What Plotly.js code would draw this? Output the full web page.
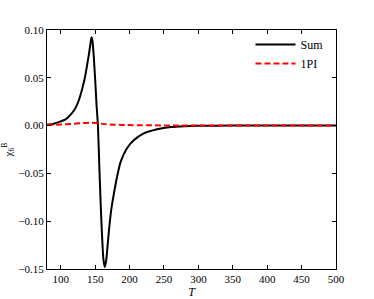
<!DOCTYPE html>
<html><head><meta charset="utf-8">
<script src="https://cdn.plot.ly/plotly-3.0.1.min.js"></script>
<style>html,body{margin:0;padding:0;background:#fff}#chart{width:374px;height:299px}</style>
</head><body><div id="chart"></div>
<script>
const sumT = [80, 90, 100, 107, 115, 121, 126, 131, 135, 138, 141, 143, 144.6, 146, 148, 150, 152, 154, 156, 158, 160, 162, 164, 166, 168, 170, 173, 177, 182, 187, 196, 206, 220, 240, 260, 280, 300, 350, 400, 450, 500];
const sumV = [0.0008, 0.002, 0.0045, 0.0065, 0.012, 0.018, 0.026, 0.038, 0.050, 0.062, 0.075, 0.085, 0.0925, 0.089, 0.072, 0.048, 0.022, 0.000, -0.042, -0.082, -0.115, -0.140, -0.148, -0.141, -0.126, -0.110, -0.090, -0.072, -0.053, -0.038, -0.024, -0.0154, -0.0084, -0.0039, -0.0015, -0.0006, -0.0002, 0, 0, 0, 0];
const piT = [80, 100, 120, 135, 145, 152, 160, 170, 185, 200, 250, 300, 400, 500];
const piV = [0.0005, 0.0012, 0.002, 0.0028, 0.003, 0.0026, 0.0018, 0.0012, 0.0008, 0.0005, 0.0002, 0.0001, 0, 0];
const xTicks = [100, 150, 200, 250, 300, 350, 400, 450, 500];
const yTicks = [0.10, 0.05, 0.00, -0.05, -0.10, -0.15];
const yTickText = ['0.10', '0.05', '0.00', '\u22120.05', '\u22120.10', '\u22120.15'];

const fam = 'Liberation Serif, DejaVu Serif, serif';
const font = {family: fam, size: 11, color: '#000'};
const data = [
  {x: sumT, y: sumV, type: 'scatter', mode: 'lines', name: 'Sum', line: {color: '#000', width: 2, shape: 'spline', smoothing: 0.6}},
  {x: piT, y: piV, type: 'scatter', mode: 'lines', name: '1PI', line: {color: '#ff0000', width: 2, dash: '6px,3px', shape: 'spline'}}
];
const axisCommon = {showgrid: false, zeroline: false, showline: true, linecolor: '#000', linewidth: 1, mirror: 'ticks', ticks: 'inside', ticklen: 4, tickcolor: '#000', tickfont: font};
const layout = {
  width: 374, height: 299,
  margin: {l: 47, r: 38, t: 30, b: 30},
  paper_bgcolor: '#fff', plot_bgcolor: '#fff',
  font: font,
  showlegend: true,
  legend: {x: 0.974, y: 1.0, xanchor: 'right', yanchor: 'top', bgcolor: 'rgba(0,0,0,0)', font: {family: fam, size: 12, color: '#000'}, tracegroupgap: 0, itemwidth: 40},
  xaxis: Object.assign({}, axisCommon, {range: [80, 500], tickvals: xTicks, title: {text: '<i>T</i>', font: {family: fam, size: 12}, standoff: 2}}),
  yaxis: Object.assign({}, axisCommon, {range: [-0.15, 0.10], tickvals: yTicks, ticktext: yTickText, title: {text: '\u03c7<sub>6</sub><sup>B</sup>', font: {family: fam, size: 11}, standoff: 4}})
};
Plotly.newPlot('chart', data, layout, {staticPlot: true, displayModeBar: false});
</script></body></html>
